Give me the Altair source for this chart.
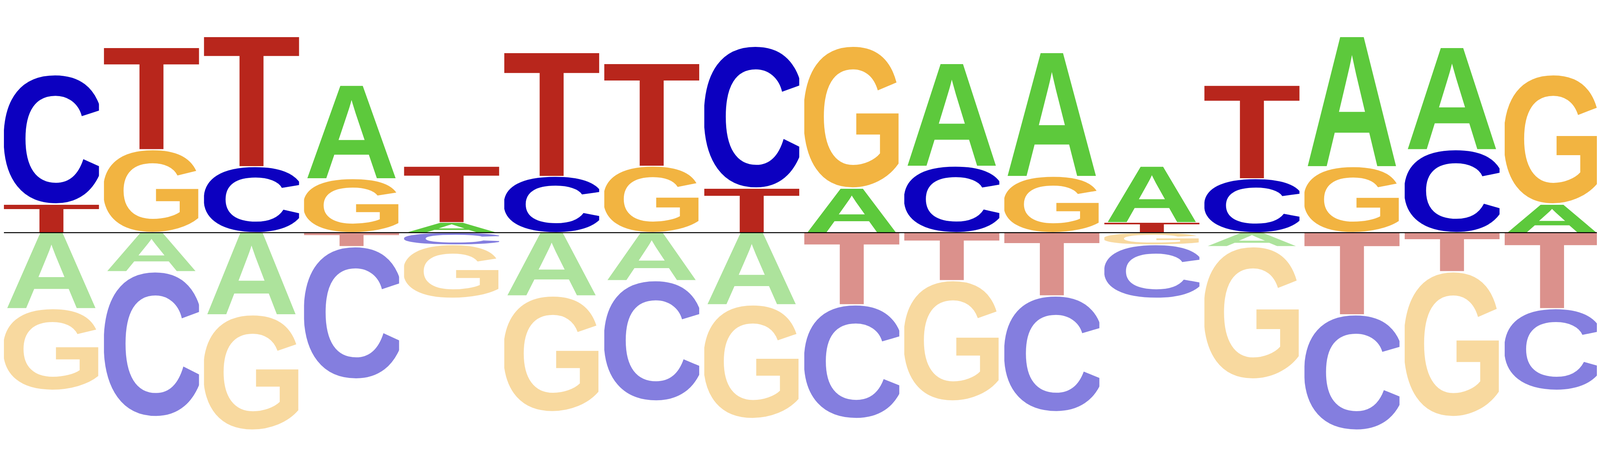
import base64

import altair as alt
import pandas as pd

# sequence logo: one weight per base and position (negative weights drawn faded below the line)
positions = list(range(1, 17))
A_vals = [-0.743, -0.380, -0.803, 0.913, 0.100, -0.618, -0.468, -0.705,
          0.433, 1.003, 1.210, 0.550, -0.135, 1.295, 0.998, 0.278]
C_vals = [1.273, -1.428, 0.648, -1.303, -0.118, 0.553, -1.185, 1.398,
          -1.120, 0.653, -1.140, -0.525, 0.530, -1.135, 0.815, -0.803]
G_vals = [-0.803, 0.815, -1.135, 0.530, -0.525, -1.140, 0.653, -1.120,
          1.398, -1.185, 0.553, -0.118, -1.303, 0.648, -1.428, 1.273]
T_vals = [0.278, 0.998, 1.295, -0.135, 0.550, 1.210, 1.003, 0.433,
          -0.705, -0.468, -0.618, 0.100, 0.913, -0.803, -0.380, -0.743]

letter_colors = {"A": "#5DC93C", "C": "#0C00C0", "G": "#F2B441", "T": "#B8261C"}
# ink box of each glyph (Liberation Sans Bold, 1000 units per em)
glyph_box = {"A": (0, 0, 722, 688), "C": (43, -14, 673, 702),
             "G": (47, -14, 721, 702), "T": (20, 0, 591, 688)}
half_w = 0.475
vpad = 0.003


def glyph_url(letter):
    x0, y0, x1, y1 = glyph_box[letter]
    w, h = x1 - x0, y1 - y0
    svg = (f'<svg xmlns="http://www.w3.org/2000/svg" width="{w}" height="{h}" '
           f'viewBox="{x0} {-y1} {w} {h}" preserveAspectRatio="none">'
           f'<text x="0" y="0" font-family="Liberation Sans" font-weight="bold" '
           f'font-size="1000" fill="{letter_colors[letter]}">{letter}</text></svg>')
    return "data:image/svg+xml;base64," + base64.b64encode(svg.encode()).decode()


urls = {k: glyph_url(k) for k in letter_colors}

rows = []
for i, p in enumerate(positions):
    vals = {"A": A_vals[i], "C": C_vals[i], "G": G_vals[i], "T": T_vals[i]}
    up = sorted((v, k) for k, v in vals.items() if v > 0)
    down = sorted(((v, k) for k, v in vals.items() if v < 0), reverse=True)
    top = 0.0
    for v, k in up:
        rows.append(dict(pos=p, letter=k, value=v, x0=p - half_w, x1=p + half_w,
                         y0=top + vpad, y1=top + v - vpad, alpha=1.0, url=urls[k]))
        top += v
    bot = 0.0
    for v, k in down:
        rows.append(dict(pos=p, letter=k, value=v, x0=p - half_w, x1=p + half_w,
                         y0=bot + v + vpad, y1=bot - vpad, alpha=0.5, url=urls[k]))
        bot += v
df = pd.DataFrame(rows)

line_df = pd.DataFrame({"x0": [min(positions) - half_w], "x1": [max(positions) + half_w], "y": [0.0]})

xs = alt.Scale(domain=[0.517, 16.448], nice=False, zero=False)
ys = alt.Scale(domain=[-1.952, 1.916], nice=False, zero=False)

letters = alt.Chart(df).mark_image(aspect=False, clip=True).encode(
    x=alt.X("x0:Q", scale=xs, axis=None),
    x2="x1:Q",
    y=alt.Y("y0:Q", scale=ys, axis=None),
    y2="y1:Q",
    url="url:N",
    opacity=alt.Opacity("alpha:Q", scale=None, legend=None),
)

baseline = alt.Chart(line_df).mark_rule(color="black", strokeWidth=3, clip=True).encode(
    x=alt.X("x0:Q", scale=xs, axis=None),
    x2="x1:Q",
    y=alt.Y("y:Q", scale=ys, axis=None),
)

chart = alt.layer(letters, baseline).properties(
    width=4784, height=1184, padding=0, background="white",
    autosize=alt.AutoSizeParams(type="fit", contains="padding"),
).configure_view(stroke=None)

chart.save("out.html", embed_options={"renderer": "svg", "actions": False})
